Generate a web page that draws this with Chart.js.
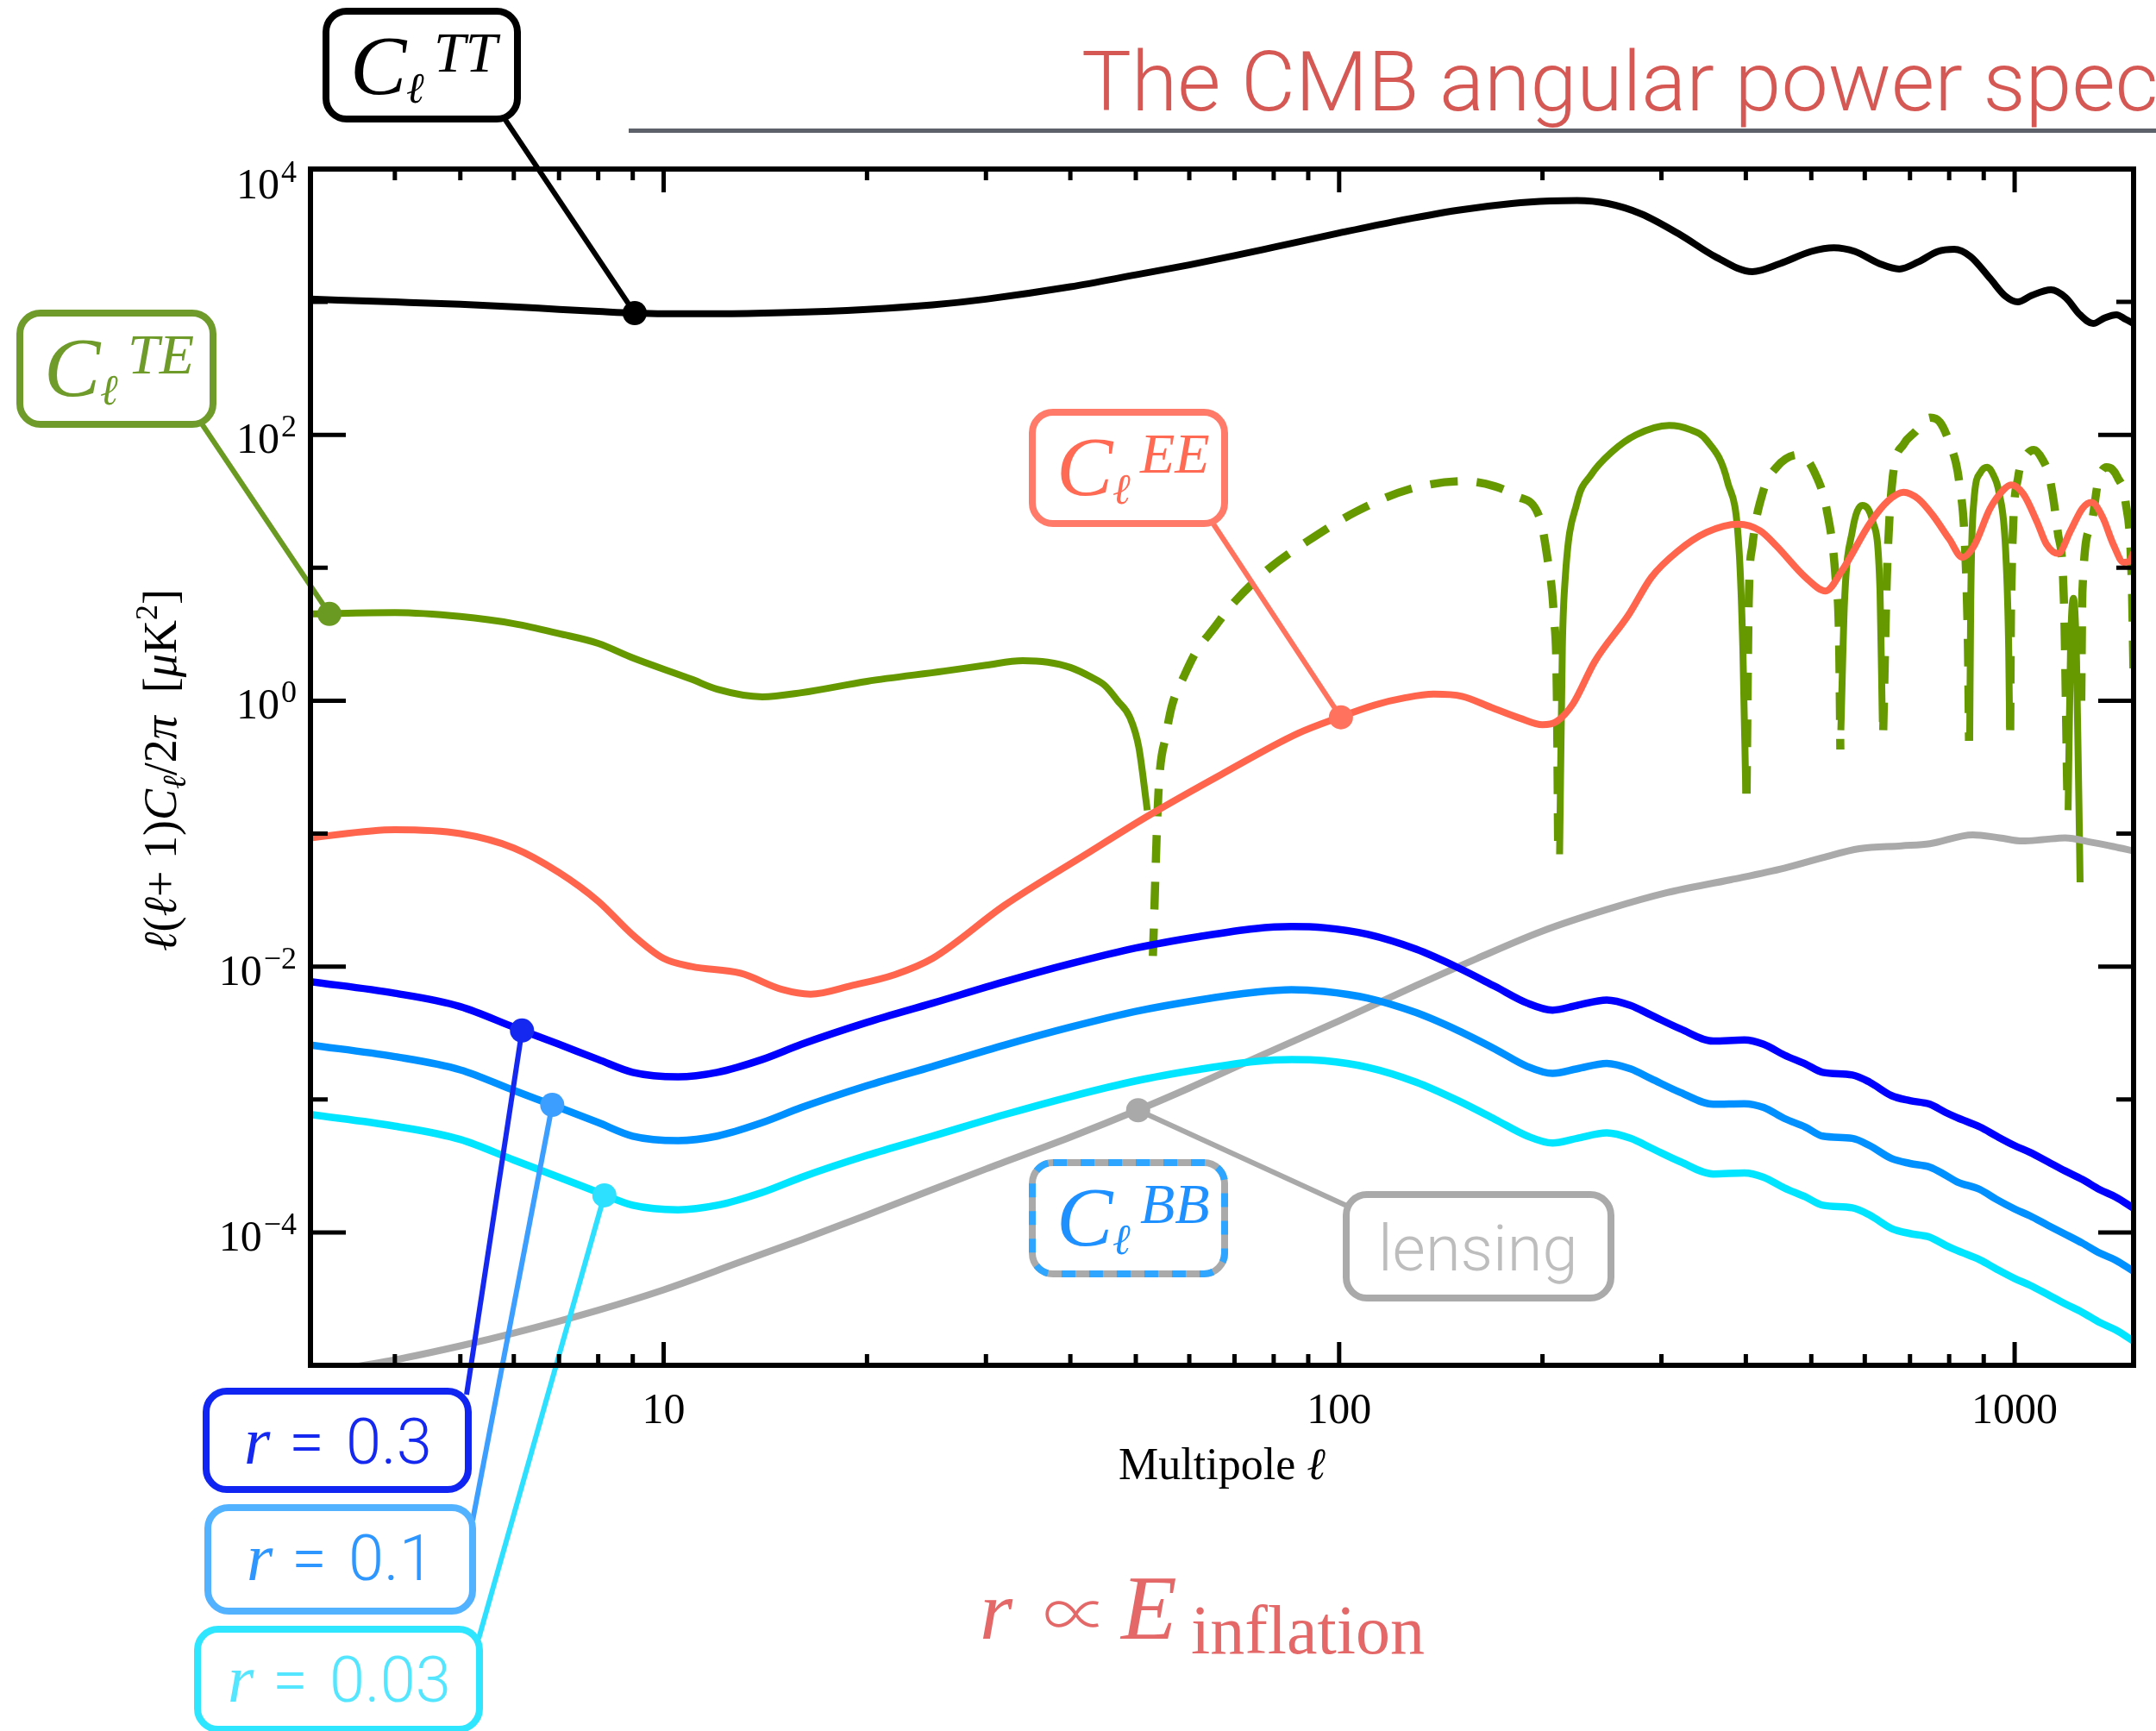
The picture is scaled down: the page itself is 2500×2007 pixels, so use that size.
<!DOCTYPE html>
<html>
<head>
<meta charset="utf-8">
<title>The CMB angular power spectrum</title>
<script src="https://cdn.jsdelivr.net/npm/chart.js@4.4.1/dist/chart.umd.min.js"></script>
<style>
  html, body { margin: 0; padding: 0; background: #fff; }
  canvas { display: block; }
</style>
</head>
<body>
<canvas id="spectrum" width="2500" height="2007" style="width:2500px;height:2007px"></canvas>
<script>
const SERIF = '"Liberation Serif", "Times New Roman", "DejaVu Serif", serif';
const SANS = 'Roboto, "Liberation Sans", sans-serif';

// D_l = l(l+1)C_l/2pi in uK^2, sampled at multipole l

// temperature
const ttEll = [3, 4, 5, 6, 7, 8, 9, 10, 12, 15, 20, 25, 30, 40, 50, 60, 70, 80, 100, 120, 150, 180, 205, 225, 250, 280,
  320, 360, 409, 450, 500, 540, 580, 630, 675, 720, 770, 814, 860, 920, 970, 1011, 1060, 1132, 1190, 1250, 1307, 1360, 1415, 1460, 1500];
const ttPower = [1050, 1000, 960, 920, 880, 850, 825, 815, 815, 830, 880, 950, 1050, 1300, 1600, 1900, 2230, 2580, 3300, 4000, 4900, 5500, 5750, 5800, 5500, 4600,
  3200, 2200, 1690, 1950, 2400, 2560, 2400, 1950, 1770, 2000, 2400, 2490, 2200, 1500, 1100, 1000, 1120, 1235, 1080, 800, 689, 760, 800, 740, 689];

// temperature x E-mode cross spectrum (signed)
const teEll = [3, 4, 5, 6, 7, 8, 9, 11, 12, 14, 16, 20, 26, 30, 34, 37, 40, 43, 45, 47, 49, 50.5, 52,
  53, 54, 55.5, 56.6, 59, 61.3, 65.5, 69, 78.6, 90, 106, 127, 153, 170, 183, 198, 203, 208, 210, 211,
  212, 214, 216, 225, 236, 253, 275, 308, 330, 350, 376, 391, 396, 400,
  401, 404, 409, 424, 444, 480, 505, 528, 543, 550, 552,
  553, 560, 575, 595, 617, 632, 637,
  639, 647, 660, 685, 712, 750, 775, 800, 828, 845, 853, 856,
  858, 861, 870, 890, 911, 930, 948, 970, 980, 983,
  985, 988, 1012, 1040, 1068, 1100, 1126, 1158, 1183, 1197,
  1200, 1210, 1222, 1235, 1250,
  1255, 1260, 1297, 1330, 1368, 1395, 1420, 1460, 1490, 1500];
const tePower = [4.5, 4.6, 4.3, 3.8, 3.2, 2.7, 2.1, 1.45, 1.22, 1.07, 1.15, 1.4, 1.67, 1.85, 2.0, 1.95, 1.78, 1.5, 1.3, 1.0, 0.75, 0.45, 0.15,
  -0.012, -0.2, -0.57, -0.93, -1.55, -2.3, -3.6, -5.1, -9.8, -16, -26.5, -39, -44.8, -41, -34.7, -23.9, -12.6, -4.2, -1.2, -0.07,
  0.07, 2.5, 8, 31, 50, 74, 100, 118, 110, 91, 44, 13.3, 2.4, 0.2,
  -0.2, -5.6, -14.6, -37, -57, -71, -53, -26, -8.6, -2.4, -0.43,
  0.6, 5.6, 18.8, 29.5, 22, 6.7, 0.69,
  -0.6, -8.6, -48, -85, -105, -135, -125, -88, -44, -13.3, -2.4, -0.5,
  0.5, 5.6, 31, 52, 57, 50, 37, 13.3, 2.4, 0.63,
  -0.6, -5.6, -48, -70, -77, -65, -48, -18.8, -5.6, -0.18,
  0.15, 2.5, 5.9, 2, 0.043,
  -1, -6.7, -20.6, -45, -57, -55, -48, -31, -8.6, -1.55];

// E-mode polarisation
const eeEll = [3, 4, 5, 6, 7, 8, 9, 10, 11, 13, 15, 16.5, 19, 22, 25, 32, 42, 52, 67, 87, 100, 113, 125, 138, 152, 168, 185, 200, 210, 222,
  239, 268, 290, 317, 350, 390, 420, 444, 490, 525, 555, 612, 650, 685, 720, 756, 800, 837, 870, 920, 960, 988, 1030, 1080, 1115, 1160,
  1210, 1260, 1300, 1350, 1400, 1450, 1480, 1500];
const eePower = [0.093, 0.107, 0.1, 0.078, 0.051, 0.031, 0.0173, 0.0115, 0.01, 0.0089, 0.0067, 0.0062, 0.0072, 0.0087, 0.0115, 0.029, 0.069, 0.135, 0.28, 0.57,
  0.75, 0.93, 1.05, 1.12, 1.08, 0.89, 0.74, 0.66, 0.7, 0.95, 1.97, 4.4, 8.5, 13.3, 18.5, 21.3, 19, 14.6, 8.5, 6.7, 9.5, 22, 32, 37, 33, 25, 16.5,
  12, 14.5, 28, 38, 42, 36, 22, 15, 12.8, 19, 28, 31, 24, 15, 11, 11.2, 13];

// primordial B-modes for three tensor-to-scalar ratios
const bbEll = [3, 4, 5, 6, 7, 8, 9, 10.5, 12, 14, 16, 20, 25, 32, 40, 50, 62, 75, 85, 95, 110, 130, 150, 170, 190, 207, 225,
  249, 270, 290, 320, 358, 398, 425, 456, 490, 520, 575, 610, 657, 700, 749, 790, 822, 889, 940, 1000, 1054, 1120, 1188, 1260, 1336, 1410, 1500];
const bbR03 = [0.0077, 0.0063, 0.005, 0.0035, 0.0026, 0.002, 0.0016, 0.00148, 0.0016, 0.002, 0.0026, 0.0038, 0.0053, 0.0077, 0.0105, 0.0138, 0.0168,
  0.0193, 0.02, 0.0196, 0.0175, 0.0135, 0.0098, 0.0071, 0.0053, 0.0047, 0.0051, 0.0056, 0.0051, 0.0043, 0.0034, 0.00275, 0.0028, 0.0026, 0.00216,
  0.00185, 0.0016, 0.00153, 0.00135, 0.00107, 0.00098, 0.00092, 0.0008, 0.00073, 0.00062, 0.00053, 0.00045, 0.0004, 0.00034, 0.00029, 0.00025,
  0.00021, 0.000185, 0.000152];
const bbR01 = [0.00257, 0.0021, 0.00167, 0.00117, 0.00087, 0.00067, 0.00053, 0.00049, 0.00053, 0.00067, 0.00087, 0.00127, 0.00177, 0.00257, 0.0035,
  0.0046, 0.0056, 0.0064, 0.0067, 0.0065, 0.0058, 0.0045, 0.0033, 0.0024, 0.00177, 0.00157, 0.0017, 0.00187, 0.0017, 0.00143, 0.00113, 0.00092,
  0.00093, 0.00087, 0.00072, 0.00062, 0.00053, 0.00051, 0.00045, 0.00036, 0.00033, 0.00031, 0.00027, 0.00024, 0.00021, 0.000177, 0.00015,
  0.000133, 0.000113, 0.000097, 0.000083, 0.00007, 0.000062, 0.000051];
const bbR003 = [0.00077, 0.00063, 0.0005, 0.00035, 0.00026, 0.0002, 0.00016, 0.000148, 0.00016, 0.0002, 0.00026, 0.00038, 0.00053, 0.00077, 0.00105,
  0.00138, 0.00168, 0.00193, 0.002, 0.00196, 0.00175, 0.00135, 0.00098, 0.00071, 0.00053, 0.00047, 0.00051, 0.00056, 0.00051, 0.00043, 0.00034,
  0.000275, 0.00028, 0.00026, 0.000216, 0.000185, 0.00016, 0.000153, 0.000135, 0.000107, 0.000098, 0.000092, 0.00008, 0.000073, 0.000062,
  0.000053, 0.000045, 0.00004, 0.000034, 0.000029, 0.000025, 0.000021, 0.0000185, 0.0000152];

// B-modes from gravitational lensing
const lensEll = [3, 4, 5, 6, 8, 10, 13, 16, 20, 25, 30, 40, 50, 60, 76, 100, 130, 160, 200, 250, 306, 380, 456, 520, 589, 680, 749, 867, 950,
  1027, 1100, 1188, 1300, 1400, 1500];
const lensPower = [8.6e-6, 1.1e-5, 1.4e-5, 1.75e-5, 2.6e-5, 3.7e-5, 6.0e-5, 8.8e-5, 1.35e-4, 2.1e-4, 3.0e-4, 5.2e-4, 8.2e-4, 1.22e-3, 2.1e-3,
  3.9e-3, 7.2e-3, 1.15e-2, 1.85e-2, 2.7e-2, 3.6e-2, 4.5e-2, 5.5e-2, 6.6e-2, 7.7e-2, 8.1e-2, 8.4e-2, 9.8e-2, 9.3e-2, 8.8e-2, 9.0e-2, 9.3e-2,
  8.6e-2, 8.0e-2, 7.4e-2];

// label anchor points: TT, TE, EE, lensing, r=0.3, r=0.1, r=0.03
const markerEll = [9.06, 3.2, 100.6, 50.4, 6.17, 6.84, 8.17];
const markerPower = [825, 4.5, 0.75, 8.3e-4, 0.0033, 0.00091, 0.00019];
const markerColors = ['#000000', '#6A9A22', '#FF735E', '#A9A9A9', '#1428F0', '#3C9EFF', '#2DE0FF'];

// axis ticks
const xTicks = [3, 4, 5, 6, 7, 8, 9, 10, 20, 30, 40, 50, 60, 70, 80, 90, 100, 200, 300, 400, 500, 600, 700, 800, 900, 1000];
const xTickLabels = [10, 100, 1000];
const yTicks = [1e-5, 1e-4, 1e-3, 1e-2, 1e-1, 1, 1e1, 1e2, 1e3, 1e4];
const yTickLabels = [1e-4, 1e-2, 1, 1e2, 1e4];

const PLOT = { left: 360, right: 2474, top: 196, bottom: 1583 };

const pts = (xs, ys) => xs.map((x, i) => ({ x, y: ys[i] }));
const tePos = teEll.map((l, i) => ({ x: l, y: tePower[i] > 0 ? tePower[i] : null }));
const teNeg = teEll.map((l, i) => ({ x: l, y: tePower[i] < 0 ? -tePower[i] : null }));

const curve = (color, width) => ({
  borderColor: color, borderWidth: width, pointRadius: 0, fill: false,
  cubicInterpolationMode: 'monotone', spanGaps: false
});

// boxed labels, drawn over the plot
const boxes = [
  { kind: 'spec', tag: 'TT', x: 378, y: 13, w: 222, h: 125, stroke: '#000000', text: '#000000', marker: 0, from: [584, 136] },
  { kind: 'spec', tag: 'TE', x: 23, y: 363, w: 224, h: 129, stroke: '#6E9B2A', text: '#6E9B2A', marker: 1, from: [229, 484] },
  { kind: 'spec', tag: 'EE', x: 1197, y: 478, w: 223, h: 129, stroke: '#FF7A68', text: '#FF6A54', marker: 2, from: [1404, 603] },
  { kind: 'spec', tag: 'BB', x: 1197, y: 1348, w: 223, h: 129, stroke: '#AAAAAA', dash: '#2EA6FF', text: '#1E90FF' },
  { kind: 'word', word: 'lensing', x: 1561, y: 1385, w: 307, h: 120, stroke: '#AAAAAA', text: '#BDBDBD', marker: 3, from: [1566, 1400] },
  { kind: 'r', value: '0.3', pad: 44, x: 239, y: 1613, w: 304, h: 114, stroke: '#1024F2', text: '#1428F0', marker: 4, from: [541, 1617] },
  { kind: 'r', value: '0.1', pad: 45, x: 241, y: 1748, w: 307, h: 120, stroke: '#52B2FF', text: '#2E96FF', marker: 5, from: [548, 1763] },
  { kind: 'r', value: '0.03', pad: 35, x: 229, y: 1889, w: 327, h: 116, stroke: '#2EE6FF', text: '#55E6FF', marker: 6, from: [555, 1900] }
];

function roundRectPath(ctx, x, y, w, h, r) {
  ctx.beginPath();
  ctx.moveTo(x + r, y);
  ctx.arcTo(x + w, y, x + w, y + h, r);
  ctx.arcTo(x + w, y + h, x, y + h, r);
  ctx.arcTo(x, y + h, x, y, r);
  ctx.arcTo(x, y, x + w, y, r);
  ctx.closePath();
}

function drawBox(ctx, b) {
  ctx.save();
  roundRectPath(ctx, b.x, b.y, b.w, b.h, 24);
  ctx.fillStyle = '#ffffff';
  ctx.fill();
  ctx.lineWidth = 8;
  ctx.strokeStyle = b.stroke;
  ctx.stroke();
  if (b.dash) {
    ctx.setLineDash([16, 16]);
    ctx.strokeStyle = b.dash;
    ctx.stroke();
    ctx.setLineDash([]);
  }
  ctx.fillStyle = b.text;
  ctx.textAlign = 'left';
  ctx.textBaseline = 'alphabetic';
  if (b.kind === 'spec') {
    ctx.font = `italic 98px ${SERIF}`;
    ctx.fillText('C', b.x + 28, b.y + 96);
    ctx.font = `italic 50px ${SERIF}`;
    ctx.fillText('\u2113', b.x + 93, b.y + 106);
    ctx.font = `italic 66px ${SERIF}`;
    ctx.fillText(b.tag, b.x + 125, b.y + 70);
  } else if (b.kind === 'word') {
    ctx.font = `300 74px ${SANS}`;
    ctx.fillText(b.word, b.x + 37, b.y + 88);
  } else {
    ctx.font = `italic 78px ${SERIF}`;
    ctx.fillText('r', b.x + b.pad, b.y + 84);
    ctx.font = `300 74px ${SANS}`;
    ctx.fillText('=', b.x + b.pad + 52, b.y + 84);
    ctx.fillText(b.value, b.x + b.pad + 118, b.y + 84);
  }
  ctx.restore();
}

// runs of [text, font, baseline shift]
function drawRuns(ctx, runs, x, y, align) {
  let total = 0;
  runs.forEach(r => { ctx.font = r[1]; total += ctx.measureText(r[0]).width; });
  let cx = align === 'center' ? x - total / 2 : x;
  ctx.textAlign = 'left';
  runs.forEach(r => {
    ctx.font = r[1];
    ctx.fillText(r[0], cx, y + (r[2] || 0));
    cx += ctx.measureText(r[0]).width;
  });
}

// a glyph stretched to a given ink width
function drawGlyphWide(ctx, ch, font, x, y, width) {
  ctx.save();
  ctx.font = font;
  const m = ctx.measureText(ch);
  const ink = (m.actualBoundingBoxRight + m.actualBoundingBoxLeft) || m.width;
  const k = width / ink;
  ctx.translate(x + m.actualBoundingBoxLeft * k, y);
  ctx.scale(k, k);
  ctx.textAlign = 'left';
  ctx.fillText(ch, 0, 0);
  ctx.restore();
}

const decor = {
  id: 'decor',
  beforeDatasetDraw(chart, args) {
    if (args.index !== 0) return;
    // leader lines from the boxes to their anchor points
    const ctx = chart.ctx;
    const dots = chart.getDatasetMeta(0).data;
    ctx.save();
    ctx.lineWidth = 6;
    boxes.forEach(b => {
      if (b.marker === undefined) return;
      const d = dots[b.marker];
      ctx.strokeStyle = markerColors[b.marker];
      ctx.beginPath();
      ctx.moveTo(b.from[0], b.from[1]);
      ctx.lineTo(d.x, d.y);
      ctx.stroke();
    });
    ctx.restore();
  },
  afterDatasetsDraw(chart) {
    const { ctx, chartArea: a, scales: { x, y } } = chart;
    ctx.save();
    ctx.strokeStyle = '#000';
    ctx.lineWidth = 5;
    ctx.beginPath();
    x.ticks.forEach(t => {
      const px = x.getPixelForValue(t.value);
      if (px < a.left + 2 || px > a.right - 2) return;
      const len = xTickLabels.includes(t.value) ? 27 : 13;
      ctx.moveTo(px, a.bottom); ctx.lineTo(px, a.bottom - len);
      ctx.moveTo(px, a.top); ctx.lineTo(px, a.top + len);
    });
    y.ticks.forEach(t => {
      const py = y.getPixelForValue(t.value);
      const len = yTickLabels.includes(t.value) ? 41 : 20;
      ctx.moveTo(a.left, py); ctx.lineTo(a.left + len, py);
      ctx.moveTo(a.right, py); ctx.lineTo(a.right - len, py);
    });
    ctx.stroke();
    ctx.lineWidth = 6;
    ctx.strokeRect(a.left, a.top, a.right - a.left, a.bottom - a.top);
    ctx.restore();
  },
  afterDraw(chart) {
    const { ctx, chartArea: a, scales: { y } } = chart;
    ctx.save();
    ctx.fillStyle = '#000';
    ctx.textBaseline = 'alphabetic';

    // y tick labels as powers of ten
    yTickLabels.forEach(v => {
      const e = Math.round(Math.log10(v));
      const py = y.getPixelForValue(v);
      const base = Math.max(py + 21, a.top + 34);
      const exp = e < 0 ? '\u2212' + (-e) : String(e);
      ctx.textAlign = 'right';
      ctx.font = `36px ${SERIF}`;
      ctx.fillText(exp, a.left - 16, base - 19);
      const w = ctx.measureText(exp).width;
      ctx.font = `50px ${SERIF}`;
      ctx.fillText('10', a.left - 18 - w, base);
    });

    // axis titles
    drawRuns(ctx, [['Multipole ', `52px ${SERIF}`], ['\u2113', `italic 52px ${SERIF}`]], (a.left + a.right) / 2, 1715, 'center');
    ctx.save();
    ctx.translate(204, 893);
    ctx.rotate(-Math.PI / 2);
    const f = `54px ${SERIF}`, fi = `italic 54px ${SERIF}`, fs = `italic 38px ${SERIF}`, fp = `36px ${SERIF}`;
    drawRuns(ctx, [
      ['\u2113', fi], ['(', f], ['\u2113', fi], ['+ 1)', f], ['C', fi], ['\u2113', fs, 11], ['/2', f], ['\u03c0', fi],
      ['  [', f], ['\u03bc', fi], ['K', f], ['2', fp, -22], [']', f]
    ], 0, 0, 'center');
    ctx.restore();

    // heading
    ctx.fillStyle = '#5D6169';
    ctx.fillRect(729, 149, chart.width - 729, 5);
    ctx.fillStyle = '#D65854';
    ctx.textAlign = 'left';
    ctx.font = `300 97px ${SANS}`;
    ctx.fillText('The CMB angular power spectrum', 1254, 128);

    // r proportional to the inflation energy scale
    ctx.fillStyle = '#E46868';
    ctx.font = `italic 98px ${SERIF}`;
    ctx.fillText('r', 1136, 1900);
    drawGlyphWide(ctx, '\u221d', `200 60px "Noto Sans CJK SC", ${SERIF}`, 1212, 1900, 62);
    ctx.font = `italic 106px ${SERIF}`;
    ctx.fillText('E', 1300, 1900);
    ctx.font = `80px ${SERIF}`;
    ctx.fillText('inflation', 1381, 1917);

    boxes.forEach(b => drawBox(ctx, b));
    ctx.restore();
  }
};

new Chart(document.getElementById('spectrum'), {
  type: 'line',
  data: {
    datasets: [
      { label: 'anchors', data: pts(markerEll, markerPower), showLine: false, pointRadius: 14, pointBorderWidth: 0,
        pointBackgroundColor: markerColors, order: 0 },
      { label: 'EE', data: pts(eeEll, eePower), ...curve('#FF654D', 8), order: 1 },
      { label: 'TT', data: pts(ttEll, ttPower), ...curve('#000000', 8), order: 2 },
      { label: 'BB r=0.3', data: pts(bbEll, bbR03), ...curve('#0000FF', 8.5), order: 3 },
      { label: 'BB r=0.1', data: pts(bbEll, bbR01), ...curve('#0090FF', 8.5), order: 3 },
      { label: 'BB r=0.03', data: pts(bbEll, bbR003), ...curve('#00E5FF', 8.5), order: 3 },
      { label: 'lensing', data: pts(lensEll, lensPower), ...curve('#AAAAAA', 8), order: 4 },
      { label: 'TE > 0', data: tePos, ...curve('#669900', 8), order: 5 },
      { label: 'TE < 0', data: teNeg, ...curve('#669900', 9.5), borderDash: [32, 22], order: 5 }
    ]
  },
  options: {
    responsive: false,
    devicePixelRatio: 1,
    animation: false,
    events: [],
    layout: { padding: { top: PLOT.top, right: 2500 - PLOT.right, left: 0, bottom: 0 } },
    plugins: { legend: { display: false }, tooltip: { enabled: false } },
    scales: {
      x: {
        type: 'logarithmic', min: 3, max: 1500,
        grid: { display: false, drawTicks: false }, border: { display: false },
        afterBuildTicks: s => { s.ticks = xTicks.map(v => ({ value: v })); },
        afterFit: s => { s.height = 2007 - PLOT.bottom; },
        ticks: {
          autoSkip: false, maxRotation: 0, padding: 24, color: '#000',
          font: { family: SERIF, size: 50 },
          callback: v => xTickLabels.includes(v) ? String(v) : ''
        }
      },
      y: {
        type: 'logarithmic', min: 1e-5, max: 1e4,
        grid: { display: false, drawTicks: false }, border: { display: false },
        afterBuildTicks: s => { s.ticks = yTicks.map(v => ({ value: v })); },
        afterFit: s => { s.width = PLOT.left; },
        ticks: { display: false }
      }
    }
  },
  plugins: [decor]
});
</script>
</body>
</html>
